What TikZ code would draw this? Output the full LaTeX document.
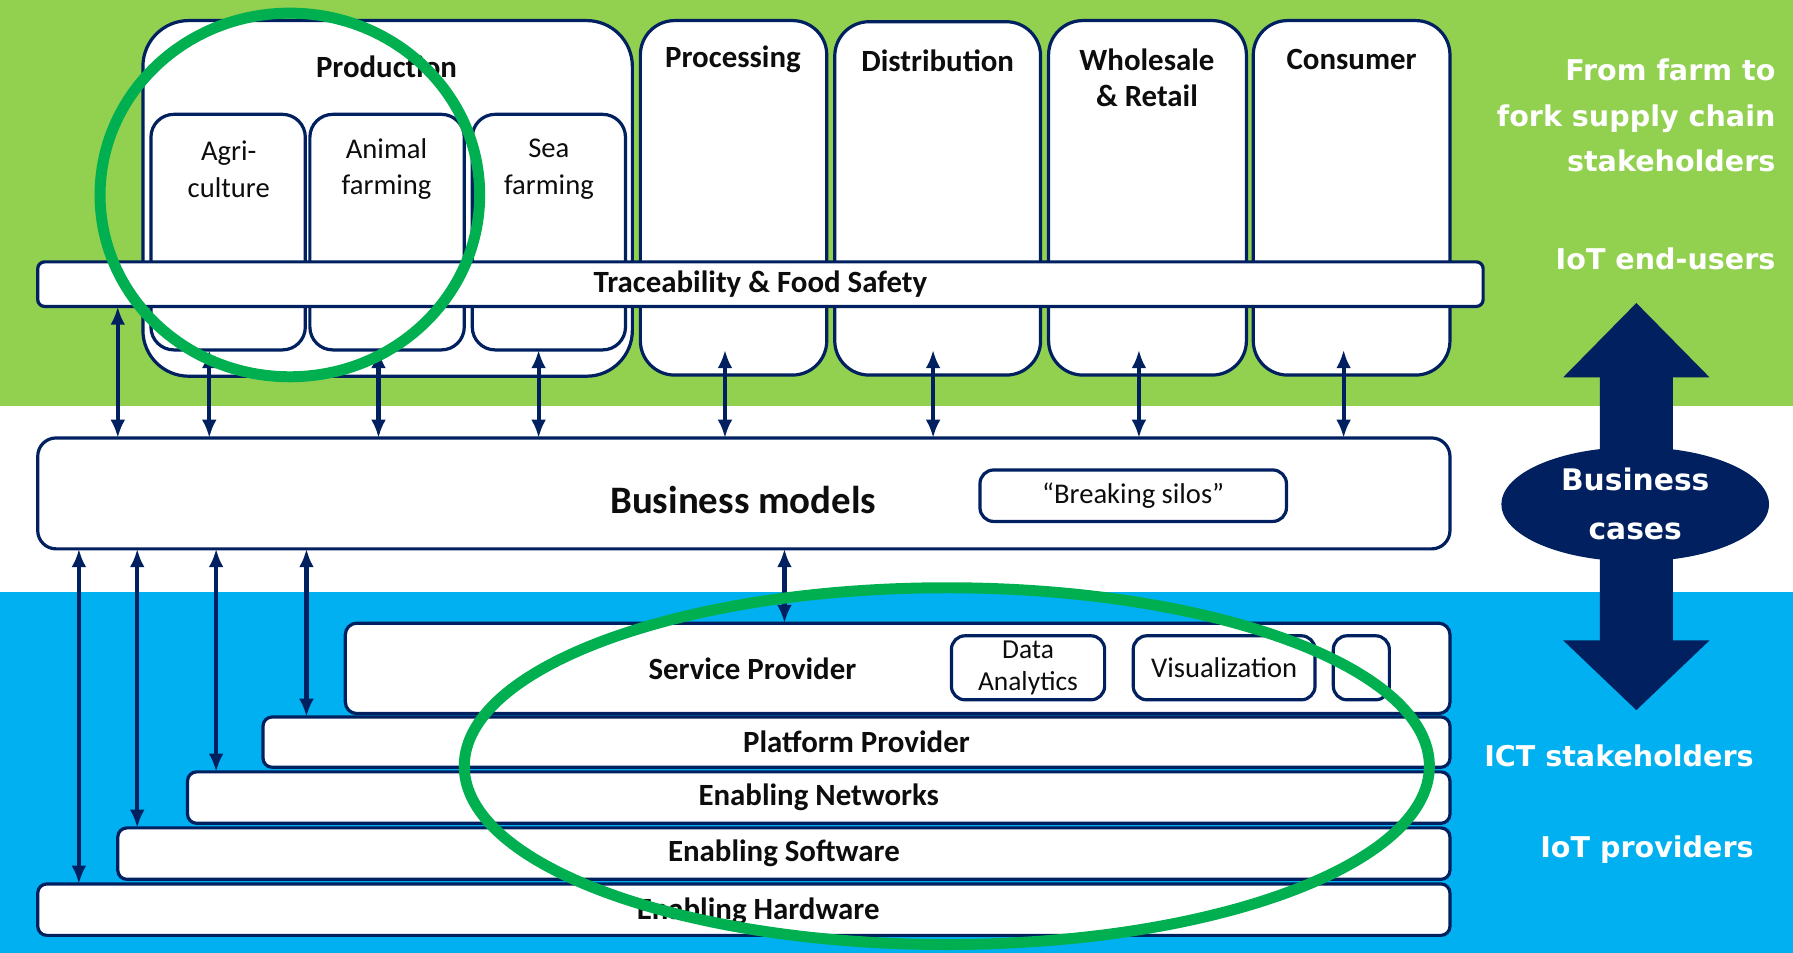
\documentclass[tikz,border=0pt]{standalone}
\usepackage{fontspec}
\setmainfont{Carlito}
\newfontfamily\vfont{DejaVu Sans}
\usetikzlibrary{arrows.meta,shapes.geometric}
\definecolor{bgGreen}{HTML}{92D050}
\definecolor{bgBlue}{HTML}{00B0F0}
\definecolor{navy}{HTML}{002060}
\definecolor{ring}{HTML}{00B050}
\definecolor{ink}{HTML}{0D0D0D}
\newcommand\mybox[7][]{\node[boxst,#1,minimum width={(#5-#3)*0.5pt},minimum height={(#6-#4)*0.5pt}] (#2) at ({(#3+#5)/2},{(#4+#6)/2}) {#7};}
\begin{document}
\begin{tikzpicture}[x=0.5pt,y=-0.5pt,
  boxst/.style={draw=navy, line width=1.4pt, fill=white, inner sep=0pt, outer sep=0pt},
  bold/.style={font=\fontsize{13.5}{16}\selectfont\bfseries, text=ink, align=center, inner sep=0pt},
  big/.style={font=\fontsize{17}{20}\selectfont\bfseries, text=ink, inner sep=0pt},
  reg/.style={font=\fontsize{12.5}{16}\selectfont, text=ink, align=center, inner sep=0pt},
  side/.style={font=\vfont\bfseries\fontsize{12.5}{20}\selectfont, text=white, align=right, inner sep=0pt},
  conn/.style={draw=navy, line width=1.8pt, {Latex[length=8pt,width=6.5pt]}-{Latex[length=8pt,width=6.5pt]}},
  ringst/.style={draw=ring, line width=4.8pt}
]
\useasboundingbox (0,0) rectangle (1568,833);
% bands
\fill[bgGreen] (0,0) rectangle (1568,355);
\fill[white] (0,355) rectangle (1568,518);
\fill[bgBlue] (0,518) rectangle (1568,833);

% supply chain columns
\mybox[rounded corners=20pt]{prod}{125}{18}{553}{329}{}
\node[bold] (prodT) at (338,58) {Production};
\mybox[rounded corners=10pt]{agri}{132}{100}{267}{306}{}
\node[reg] (agriT) at (200,148) {Agri-\\culture};
\mybox[rounded corners=10pt]{anim}{271}{100}{406}{306}{}
\node[reg] (animT) at (338,148) {Animal\\farming};
\mybox[rounded corners=10pt]{sea}{413}{100}{547}{306}{}
\node[reg] (seaT) at (480,148) {Sea\\farming};
\mybox[rounded corners=15pt]{proc}{560}{18}{723}{328}{}
\node[bold] (procT) at (641,52) {Processing};
\mybox[rounded corners=15pt]{dist}{730}{19}{910}{328}{}
\node[bold] (distT) at (820,53) {Distribution};
\mybox[rounded corners=15pt]{whole}{917}{18}{1090}{328}{}
\node[bold] (wholeT) at (1003,68) {Wholesale\\\& Retail};
\mybox[rounded corners=15pt]{cons}{1096}{18}{1268}{328}{}
\node[bold] (consT) at (1182,52) {Consumer};

\mybox[bold,rounded corners=3pt]{trace}{33}{229}{1297}{268}{Traceability \& Food Safety}

% business models
\mybox[rounded corners=8pt]{bm}{33}{383}{1268}{480}{}
\node[big] (bmT) at (650,437) {Business models};
\mybox[reg,rounded corners=6pt]{silo}{857}{411}{1125}{456}{“Breaking silos”}

% ICT layers
\mybox[rounded corners=5pt]{sp}{302}{545}{1268}{624}{}
\node[bold] (spT) at (658,585) {Service Provider};
\mybox[reg,rounded corners=6pt,font=\fontsize{12}{14}\selectfont]{da}{832}{556}{966}{612}{Data\\Analytics}
\mybox[reg,rounded corners=6pt]{vis}{991}{556}{1150}{612}{Visualization}
\mybox[rounded corners=6pt]{sp3}{1166}{556}{1215}{612}{}
\mybox[bold,rounded corners=4pt]{pp}{230}{627}{1268}{671}{Platform Provider}
\mybox[bold,rounded corners=4pt]{net}{164}{675}{1268}{720}{Enabling Networks}
\mybox[bold,rounded corners=4pt]{sw}{103}{724}{1268}{769}{Enabling Software}
\mybox[rounded corners=4pt]{hw}{33}{773}{1268}{818}{}
\node[bold] (hwT) at (663,797) {Enabling Hardware};

% connectors
\coordinate (xa) at (103,0);
\coordinate (xb) at (183,0);
\coordinate (xc) at (331,0);
\coordinate (xd) at (471,0);
\coordinate (procIn) at (634,306);
\coordinate (distIn) at (816,306);
\coordinate (wholeIn) at (996,306);
\coordinate (consIn) at (1175,306);
\coordinate (xf) at (69,0);
\coordinate (xg) at (120,0);
\coordinate (xh) at (189,0);
\coordinate (xi) at (268,0);
\coordinate (xj) at (686,0);
\draw[conn] (xa |- trace.south) -- (xa |- bm.north);
\draw[conn] (xb |- agri.south) -- (xb |- bm.north);
\draw[conn] (xc |- anim.south) -- (xc |- bm.north);
\draw[conn] (xd |- sea.south) -- (xd |- bm.north);
\draw[conn] (procIn) -- (procIn |- bm.north);
\draw[conn] (distIn) -- (distIn |- bm.north);
\draw[conn] (wholeIn) -- (wholeIn |- bm.north);
\draw[conn] (consIn) -- (consIn |- bm.north);
\draw[conn] (xf |- bm.south) -- (xf |- hw.north);
\draw[conn] (xg |- bm.south) -- (xg |- sw.north);
\draw[conn] (xh |- bm.south) -- (xh |- net.north);
\draw[conn] (xi |- bm.south) -- (xi |- pp.north);
\draw[conn] (xj |- bm.south) -- (xj |- sp.north);

% right side
\fill[navy] (1431,265) -- (1495,330) -- (1463,330) -- (1463,560) -- (1495,560) -- (1431,621) -- (1367,560) -- (1399,560) -- (1399,330) -- (1367,330) -- cycle;
\node[ellipse, fill=navy, minimum width=117pt, minimum height=50pt, inner sep=0pt, text=white, align=center, font=\vfont\bfseries\fontsize{13}{21.5}\selectfont] (bc) at (1430,441) {Business\\cases};
\node[side, anchor=east] (farm) at (1553,101) {From farm to\\fork supply chain\\stakeholders};
\node[side, anchor=east] (endu) at (1553,226) {IoT end-users};
\node[side, anchor=east] (ict) at (1534,661) {ICT stakeholders};
\node[side, anchor=east] (prov) at (1534,743) {IoT providers};

% highlight rings
\draw[ringst] (253.5,170.5) ellipse [x radius=83pt, y radius=79.5pt];
\draw[ringst] (828,670) ellipse [x radius=211pt, y radius=78pt];
\end{tikzpicture}
\end{document}
